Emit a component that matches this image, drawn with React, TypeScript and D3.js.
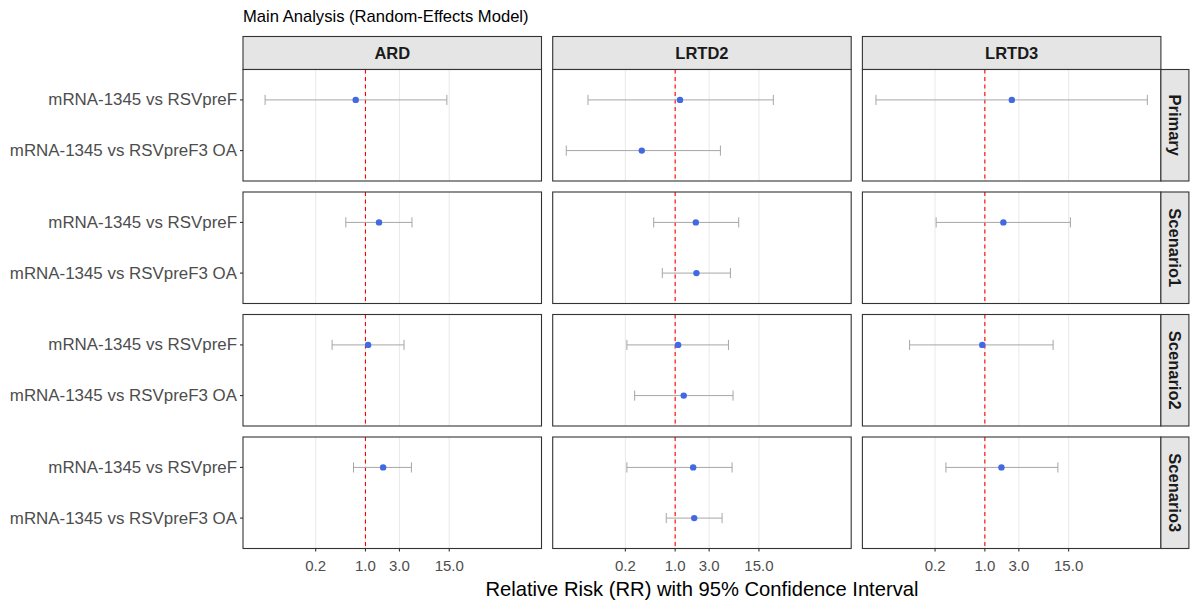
import React from "react";
import * as d3 from "d3";

const outcomes = ["ARD", "LRTD2", "LRTD3"];
const scenarios = ["Primary", "Scenario1", "Scenario2", "Scenario3"];
const comparisons = ["mRNA-1345 vs RSVpreF", "mRNA-1345 vs RSVpreF3 OA"];
const xTicks = [0.2, 1, 3, 15];

// one entry per estimate
const rowOutcome = ["ARD", "ARD", "ARD", "ARD", "LRTD2", "LRTD2", "LRTD2", "LRTD2", "LRTD2", "LRTD2", "LRTD2", "LRTD2", "LRTD3", "LRTD3", "LRTD3", "LRTD3"];
const rowScenario = ["Primary", "Scenario1", "Scenario2", "Scenario3", "Primary", "Primary", "Scenario1", "Scenario1", "Scenario2", "Scenario2", "Scenario3", "Scenario3", "Primary", "Scenario1", "Scenario2", "Scenario3"];
const rowComparison = [0, 0, 0, 0, 0, 1, 0, 1, 0, 1, 0, 1, 0, 0, 0, 0];
const rrValues = [0.73, 1.55, 1.09, 1.77, 1.17, 0.34, 1.95, 1.99, 1.1, 1.32, 1.79, 1.85, 2.39, 1.82, 0.92, 1.71];
const ciLower = [0.039, 0.53, 0.34, 0.68, 0.0597, 0.0296, 0.5, 0.66, 0.21, 0.27, 0.21, 0.75, 0.0296, 0.207, 0.0877, 0.284];
const ciUpper = [13.9, 4.5, 3.48, 4.42, 23.9, 4.32, 7.8, 5.97, 5.6, 6.5, 6.3, 4.56, 191, 15.9, 9.08, 10.6];

const W = 1190;
const H = 601;
const left = 243;
const panelW = 298.5;
const gapX = 11.2;
const top = 69.5;
const panelH = 111.5;
const gapY = 11;
const stripH = 33;
const font = "'Liberation Sans', Arial, sans-serif";

export default function App() {
  // ggplot-style 5% expansion in log space
  const lo = Math.log10(d3.min(ciLower) as number);
  const hi = Math.log10(d3.max(ciUpper) as number);
  const pad = (hi - lo) * 0.05;
  const x = d3.scaleLog().domain([10 ** (lo - pad), 10 ** (hi + pad)]).range([0, panelW]);
  const y = d3.scalePoint<number>().domain([0, 1]).range([0, panelH]).padding(0.6);
  const unit = panelH / 2.2;

  const rightEdge = left + 3 * panelW + 2 * gapX;
  const bottom = top + 4 * panelH + 3 * gapY;

  return (
    <svg width={W} height={H} style={{ position: "absolute", left: 0, top: 0, background: "#fff" }} fontFamily={font}>
      <text x={left} y={22} fontSize={16.6} fill="#000">Main Analysis (Random-Effects Model)</text>

      {outcomes.map((o, ci) => {
        const px = left + ci * (panelW + gapX);
        return (
          <g key={o} transform={`translate(${px},0)`}>
            <rect x={0} y={top - stripH} width={panelW} height={stripH} fill="#e5e5e5" stroke="#333" strokeWidth={1.1} />
            <text x={panelW / 2} y={top - stripH / 2 + 6} textAnchor="middle" fontSize={16.5} fontWeight="bold" fill="#1a1a1a">{o}</text>
            {scenarios.map((s, ri) => {
              const py = top + ri * (panelH + gapY);
              const idx = rowOutcome.map((v, i) => i).filter((i) => rowOutcome[i] === o && rowScenario[i] === s);
              return (
                <g key={s} transform={`translate(0,${py})`}>
                  <rect x={0} y={0} width={panelW} height={panelH} fill="#fff" />
                  {xTicks.map((t) => (
                    <line key={t} x1={x(t)} x2={x(t)} y1={0} y2={panelH} stroke="#ebebeb" strokeWidth={1.1} />
                  ))}
                  <line x1={x(1)} x2={x(1)} y1={0} y2={panelH} stroke="#ff0000" strokeWidth={1.1} strokeDasharray="4,3.5" />
                  {idx.map((i) => {
                    const cy = y(rowComparison[i]) as number;
                    const h = unit * 0.1;
                    return (
                      <g key={i}>
                        <line x1={x(ciLower[i])} x2={x(ciUpper[i])} y1={cy} y2={cy} stroke="#a6a6a6" strokeWidth={1} />
                        <line x1={x(ciLower[i])} x2={x(ciLower[i])} y1={cy - h} y2={cy + h} stroke="#a6a6a6" strokeWidth={1} />
                        <line x1={x(ciUpper[i])} x2={x(ciUpper[i])} y1={cy - h} y2={cy + h} stroke="#a6a6a6" strokeWidth={1} />
                        <circle cx={x(rrValues[i])} cy={cy} r={3.2} fill="#4169e1" />
                      </g>
                    );
                  })}
                  <rect x={0} y={0} width={panelW} height={panelH} fill="none" stroke="#333" strokeWidth={1.1} />
                </g>
              );
            })}
            {xTicks.map((t) => (
              <g key={t}>
                <line x1={x(t)} x2={x(t)} y1={bottom} y2={bottom + 3} stroke="#333" strokeWidth={1.1} />
                <text x={x(t)} y={571} textAnchor="middle" fontSize={15} fill="#4d4d4d">{d3.format(".1f")(t)}</text>
              </g>
            ))}
          </g>
        );
      })}

      {scenarios.map((s, ri) => {
        const py = top + ri * (panelH + gapY);
        return (
          <g key={s} transform={`translate(0,${py})`}>
            <rect x={rightEdge} y={0} width={28} height={panelH} fill="#e5e5e5" stroke="#333" strokeWidth={1.1} />
            <text transform={`translate(${rightEdge + 14 - 6},${panelH / 2}) rotate(90)`} textAnchor="middle" fontSize={16.5} fontWeight="bold" fill="#1a1a1a">{s}</text>
            {comparisons.map((c, k) => {
              const cy = y(k) as number;
              return (
                <g key={c}>
                  <line x1={left - 3} x2={left} y1={cy} y2={cy} stroke="#333" strokeWidth={1.1} />
                  <text x={left - 6} y={cy + 5.5} textAnchor="end" fontSize={16.9} fill="#4d4d4d">{c}</text>
                </g>
              );
            })}
          </g>
        );
      })}

      <text x={(left + rightEdge) / 2} y={596} textAnchor="middle" fontSize={20.2} fill="#000">Relative Risk (RR) with 95% Confidence Interval</text>
    </svg>
  );
}
